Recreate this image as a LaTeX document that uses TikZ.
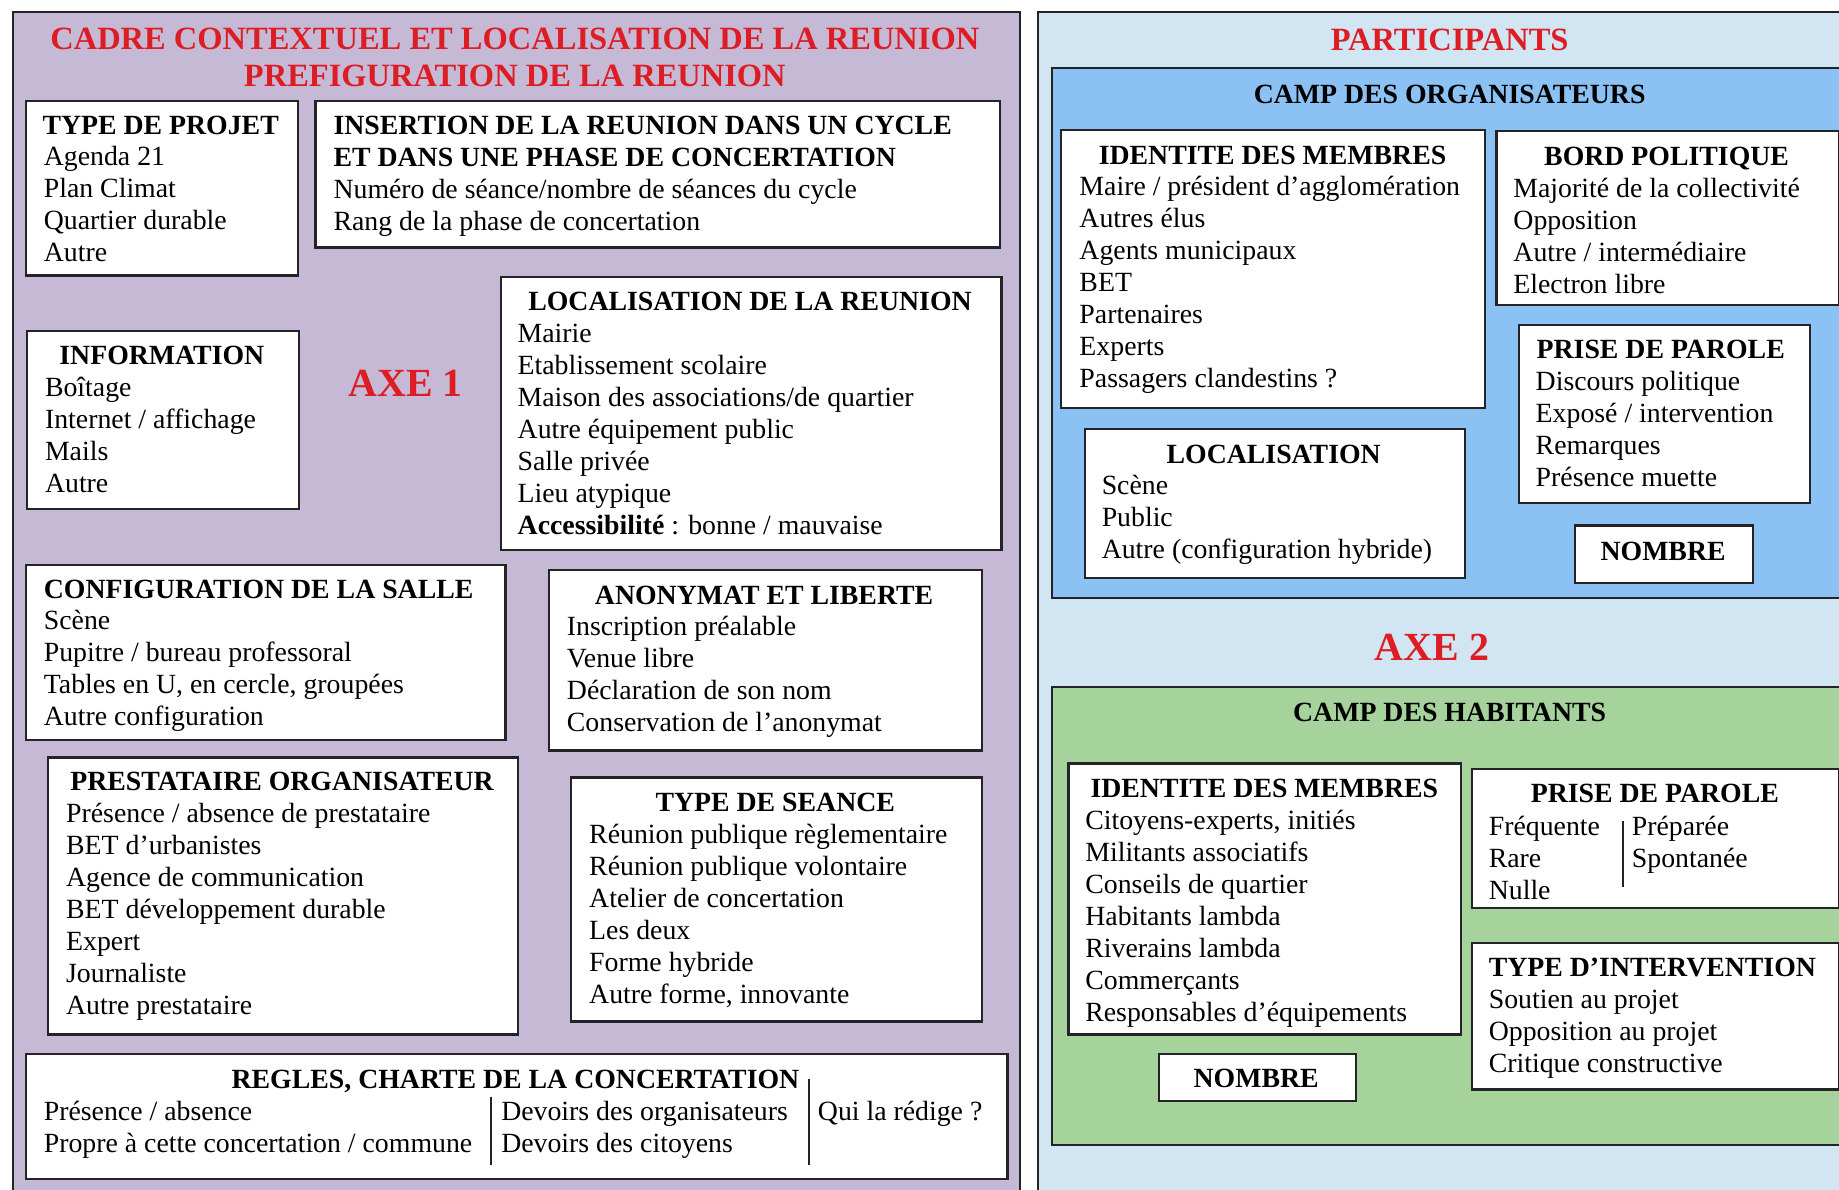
\documentclass[tikz,border=0pt]{standalone}
\usepackage{fontspec}
\setmainfont{Liberation Serif}
\definecolor{purp}{RGB}{198,185,214}
\definecolor{lblue}{RGB}{209,229,243}
\definecolor{cblue}{RGB}{140,193,243}
\definecolor{cgreen}{RGB}{166,210,156}
\definecolor{tred}{RGB}{222,28,36}
\definecolor{edge}{RGB}{35,35,40}
\newcommand{\bx}[5]{\node[box, anchor=north west, minimum width={(#4-#2)*0.5pt}, minimum height={(#5-#3)*0.5pt}] (#1) at (#2,#3) {};}
\newcommand{\pnl}[6]{\node[panel, fill=#6, anchor=north west, minimum width={(#4-#2)*0.5pt}, minimum height={(#5-#3)*0.5pt}] (#1) at (#2,#3) {};}
\tikzset{
  box/.style={draw=edge, line width=0.95pt, fill=white, inner sep=0pt},
  panel/.style={draw=edge, line width=0.95pt, inner sep=0pt},
  body/.style={font=\fontsize{11.85}{13.65}\selectfont, align=left, inner sep=0pt, anchor=base west},
  head/.style={font=\fontsize{11.85}{13.65}\selectfont\bfseries, inner sep=0pt, anchor=base},
  headl/.style={font=\fontsize{11.85}{13.65}\selectfont\bfseries, align=left, inner sep=0pt, anchor=base west},
  title/.style={font=\fontsize{13.85}{16}\selectfont\bfseries, text=tred, align=center, inner sep=0pt, anchor=base},
  axe/.style={font=\fontsize{17}{20}\selectfont\bfseries, text=tred, inner sep=0pt, anchor=base},
  sep/.style={draw=edge, line width=0.8pt}
}
\begin{document}
\begin{tikzpicture}[x=0.5pt,y=-0.5pt]
\useasboundingbox (0,0) rectangle (1568,1014);
\clip (0,0) rectangle (1568,1014);
\fill[white] (0,0) rectangle (1568,1014);
% ---------------- left panel
\pnl{left}{10}{9}{869}{1040}{purp}
\node[title] (t1) at (439,74) {CADRE CONTEXTUEL ET LOCALISATION DE LA REUNION\\PREFIGURATION DE LA REUNION};
\node[axe] (axe1) at (346,338) {AXE 1};

\bx{tp}{21}{85}{253}{234}
\node[head] (tph) at (137,115) {TYPE DE PROJET};
\node[body] (tpb) at (37,222.9) {Agenda 21\\Plan Climat\\Quartier durable\\Autre};

\bx{ins}{268}{85}{852}{210}
\node[headl] (insh) at (284,142.3) {INSERTION DE LA REUNION DANS UN CYCLE\\ET DANS UNE PHASE DE CONCERTATION};
\node[body] (insb) at (284,196.3) {Numéro de séance/nombre de séances du cycle\\Rang de la phase de concertation};

\bx{inf}{22}{281}{254}{433}
\node[head] (infh) at (138,311) {INFORMATION};
\node[body] (infb) at (38,419.9) {Boîtage\\Internet / affichage\\Mails\\Autre};

\bx{loc}{426}{235}{853}{468}
\node[head] (loch) at (639.5,265) {LOCALISATION DE LA REUNION};
\node[body] (locb) at (441,455.8) {Mairie\\Etablissement scolaire\\Maison des associations/de quartier\\Autre équipement public\\Salle privée\\Lieu atypique\\\textbf{Accessibilité} : bonne / mauvaise};

\bx{cfg}{21}{481}{430}{630}
\node[headl] (cfgh) at (37,510) {CONFIGURATION DE LA SALLE};
\node[body] (cfgb) at (37,618.9) {Scène\\Pupitre / bureau professoral\\Tables en U, en cercle, groupées\\Autre configuration};

\bx{ano}{467}{485}{836}{639}
\node[head] (anoh) at (651.5,515) {ANONYMAT ET LIBERTE};
\node[body] (anob) at (483,623.9) {Inscription préalable\\Venue libre\\Déclaration de son nom\\Conservation de l’anonymat};

\bx{pre}{40}{645}{441}{881}
\node[head] (preh) at (240.5,674) {PRESTATAIRE ORGANISATEUR};
\node[body] (preb) at (56,864.8) {Présence / absence de prestataire\\BET d’urbanistes\\Agence de communication\\BET développement durable\\Expert\\Journaliste\\Autre prestataire};

\bx{sea}{486}{662}{836}{870}
\node[head] (seah) at (661,692) {TYPE DE SEANCE};
\node[body] (seab) at (502,855.5) {Réunion publique règlementaire\\Réunion publique volontaire\\Atelier de concertation\\Les deux\\Forme hybride\\Autre forme, innovante};

\bx{reg}{21}{898}{858}{1004}
\node[head] (regh) at (439.5,928) {REGLES, CHARTE DE LA CONCERTATION};
\node[body] (regb1) at (37,982.3) {Présence / absence\\Propre à cette concertation / commune};
\node[body] (regb2) at (427,982.3) {Devoirs des organisateurs\\Devoirs des citoyens};
\node[body] (regb3) at (697,955) {Qui la rédige ?};
\coordinate (rs1a) at (419,935); \coordinate (rs1b) at (419,993);
\coordinate (rs2a) at (690,920); \coordinate (rs2b) at (690,993);
\draw[sep] (rs1a) -- (rs1b);
\draw[sep] (rs2a) -- (rs2b);

% ---------------- right panel
\pnl{right}{884}{9}{1600}{1040}{lblue}
\node[title] (t2) at (1236,43) {PARTICIPANTS};

\pnl{org}{896}{57}{1600}{509}{cblue}
\node[head] (orgh) at (1236,88) {CAMP DES ORGANISATEURS};

\bx{idm}{904}{110}{1265}{347}
\node[head] (idmh) at (1085,140) {IDENTITE DES MEMBRES};
\node[body] (idmb) at (920,330.8) {Maire / président d’agglomération\\Autres élus\\Agents municipaux\\BET\\Partenaires\\Experts\\Passagers clandestins ?};

\bx{bord}{1275}{111}{1567}{259}
\node[head] (bordh) at (1421,141) {BORD POLITIQUE};
\node[body] (bordb) at (1290,249.9) {Majorité de la collectivité\\Opposition\\Autre / intermédiaire\\Electron libre};

\bx{loc2}{924}{365}{1248}{492}
\node[head] (loc2h) at (1086,395) {LOCALISATION};
\node[body] (loc2b) at (939,476.6) {Scène\\Public\\Autre (configuration hybride)};

\bx{pp1}{1294}{276}{1542}{428}
\node[head] (pp1h) at (1416,306) {PRISE DE PAROLE};
\node[body] (pp1b) at (1309,414.9) {Discours politique\\Exposé / intervention\\Remarques\\Présence muette};

\bx{nb1}{1342}{447}{1494}{496}
\node[head] (nb1t) at (1418,478) {NOMBRE};

\node[axe] (axe2) at (1221,563) {AXE 2};

\pnl{hab}{896}{585}{1600}{975}{cgreen}
\node[head] (habh) at (1236,615) {CAMP DES HABITANTS};

\bx{idh}{910}{650}{1245}{881}
\node[head] (idhh) at (1078,680) {IDENTITE DES MEMBRES};
\node[body] (idhb) at (925,870.8) {Citoyens-experts, initiés\\Militants associatifs\\Conseils de quartier\\Habitants lambda\\Riverains lambda\\Commerçants\\Responsables d’équipements};

\bx{nb2}{987}{898}{1155}{938}
\node[head] (nb2t) at (1071,927) {NOMBRE};

\bx{pp2}{1254}{655}{1567}{773}
\node[head] (pp2h) at (1411,684) {PRISE DE PAROLE};
\node[body] (pp2b1) at (1269,766.6) {Fréquente\\Rare\\Nulle};
\node[body] (pp2b2) at (1391,739.3) {Préparée\\Spontanée};
\coordinate (ps1a) at (1384,700); \coordinate (ps1b) at (1384,756);
\draw[sep] (ps1a) -- (ps1b);

\bx{tint}{1254}{803}{1567}{928}
\node[headl] (tinth) at (1269,833) {TYPE D’INTERVENTION};
\node[body] (tintb) at (1269,914.6) {Soutien au projet\\Opposition au projet\\Critique constructive};
\end{tikzpicture}
\end{document}
